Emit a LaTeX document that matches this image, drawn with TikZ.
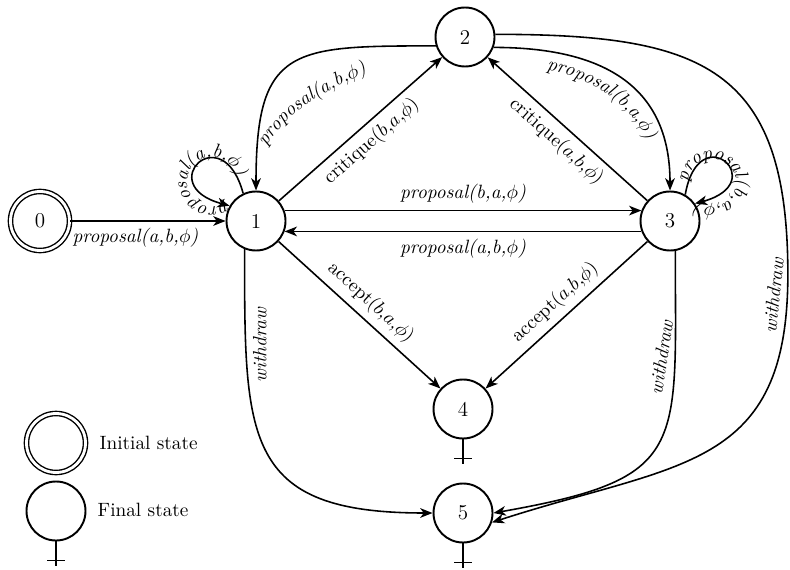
\documentclass[tikz,border=0pt,11pt]{standalone}
\usepackage{amsmath}
\usepackage{amssymb}
\usepackage{tikz}
\usetikzlibrary{arrows.meta}
\usetikzlibrary{decorations.text}

\begin{document}
\begin{tikzpicture}[>={Stealth[length=7pt,width=5.5pt,inset=2pt]}, line width=0.9pt,
    state/.style={draw, circle, line width=1.1pt, minimum size=1.18cm, inner sep=0pt, font=\large},
    start/.style={double, double distance=1.6pt, line width=0.8pt},
    lbl/.style={font=\itshape}]
    \useasboundingbox (0,0) rectangle (15.8,-11.38);

    \node[state, start] (n0) at (0.8,-4.42)   {0};
    \node[state]        (n1) at (5.12,-4.42)  {1};
    \node[state]        (n2) at (9.3,-0.74)   {2};
    \node[state]        (n3) at (13.4,-4.42)  {3};
    \node[state]        (n4) at (9.26,-8.18)  {4};
    \node[state]        (n5) at (9.26,-10.26) {5};

    % legend
    \node[state, start] (li) at (1.12,-8.86) {};
    \node[anchor=west] (tinit) at (1.85,-8.86) {Initial state};
    \node[state] (lf) at (1.12,-10.22) {};
    \node[anchor=west] (tfinal) at (1.81,-10.2) {Final state};

    \foreach \f in {n4,n5,lf}
        \draw (\f.south) -- ++(0,-0.5) ([yshift=-0.38cm]\f.south) ++(-0.18,0) -- ++(0.36,0);

    \draw[->, line width=0.6pt] (n0) -- node[lbl, below, pos=0.42] (l01) {proposal(a,b,$\phi$)} (n1);
    \draw[->] (n1.20) -- node[lbl, above] (l13) {proposal(b,a,$\phi$)} (n3.160);
    \draw[->] (n3.200) -- node[lbl, below] (l31) {proposal(a,b,$\phi$)} (n1.-20);

    \draw[->] (n1) -- node[sloped, below] (c12) {critique($b$,$a$,$\phi$)} (n2);
    \draw[<-] (n2) -- node[sloped, below] (c32) {critique($a$,$b$,$\phi$)} (n3);
    \draw[->] (n1) -- node[sloped, above] (a14) {accept($b$,$a$,$\phi$)} (n4);
    \draw[<-] (n4) -- node[sloped, above] (a34) {accept($a$,$b$,$\phi$)} (n3);

    \draw[<-] (n1.north) to[out=90, in=180, looseness=1.6] (n2.197);
    \path[decorate, decoration={text along path, text align=center,
        text={|\itshape|proposal(a,b,{$\phi$})}}]
        ([shift={(0.14,1.4)}]n1.center) to[out=58, in=205] ([shift={(-1.86,-0.66)}]n2.center);
    \draw[->] (n2.-20) to[out=0, in=90, looseness=1.2] (n3.north);
    \path[decorate, decoration={text along path, text align=center,
        text={|\itshape|proposal(b,a,{$\phi$})}}]
        ([shift={(1.5,-0.62)}]n2.center) to[out=-12, in=115] ([shift={(-0.4,1.5)}]n3.center);

    % loops
    \draw[->] (n1.115) .. controls +(105:1.6) and +(165:1.6) .. (n1.150);
    \path[decorate, decoration={text along path, text={|\itshape|proposal(a,b,{$\phi$})}}]
        ([shift={(-0.88,0.78)}]n1.center) ++(-55:0.5) arc[start angle=-55, end angle=-365, radius=0.5];
    \draw[->] (n3.60) .. controls +(80:1.6) and +(15:1.6) .. (n3.35);
    \path[decorate, decoration={text along path, text={|\itshape|proposal(b,a,{$\phi$})}}]
        ([shift={(0.84,0.76)}]n3.center) ++(178:0.48) arc[start angle=178, end angle=-132, radius=0.48];

    % withdraw
    \draw[->] (n1.248) to[out=-90, in=180, looseness=1.5]
        node[lbl, pos=0.19, rotate=90, anchor=north] (w15) {withdraw} (n5.west);
    \draw[->] (n3.-80) to[out=-90, in=10, looseness=1.6]
        node[lbl, pos=0.22, rotate=81, anchor=south] (w35) {withdraw} (n5.east);
    \draw[->] (n2.5) to[out=0, in=90, looseness=1.4] ++(5.85,-4.8)
        to[out=-90, in=18, looseness=1.3]
        node[lbl, pos=0.04, rotate=84, anchor=south] (w25) {withdraw} (n5.-18);
\end{tikzpicture}
\end{document}
